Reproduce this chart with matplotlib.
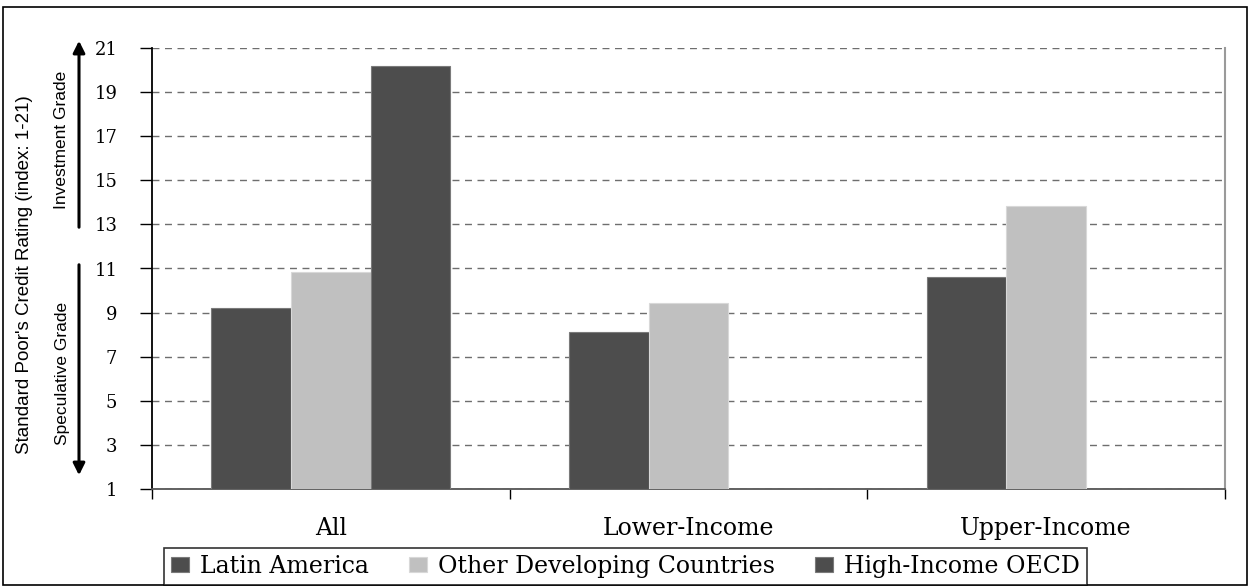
import matplotlib
matplotlib.use("Agg")
import matplotlib.pyplot as plt
import numpy as np
from matplotlib.patches import Rectangle, FancyArrowPatch

# data
groups = ["All", "Lower-Income", "Upper-Income"]
latin_america = [9.2, 8.1, 10.6]
other_developing = [10.85, 9.45, 13.85]
high_income_oecd = [20.2, None, None]
series_names = ["Latin America", "Other Developing Countries", "High-Income OECD"]
y_ticks = [1, 3, 5, 7, 9, 11, 13, 15, 17, 19, 21]

dark = "#4d4d4d"
light = "#c0c0c0"
serif = ["DejaVu Serif"]
narrow = ["Liberation Sans Narrow", "Liberation Sans", "DejaVu Sans"]

W, H = 1252, 586
fig = plt.figure(figsize=(W / 100, H / 100), dpi=100)
ax = fig.add_axes([152 / W, 1 - 489 / H, (1225 - 152) / W, (489 - 48) / H])

x = np.arange(len(groups))
w = 0.223
series = [latin_america, other_developing, high_income_oecd]
colors = [dark, light, dark]
edges = ["#7a7a7a", "#d8d8d8", "#7a7a7a"]
for i, (vals, c, ec, name) in enumerate(zip(series, colors, edges, series_names)):
    xs = [xi + (i - 1) * w for xi, v in zip(x, vals) if v is not None]
    hs = [v - 1 for v in vals if v is not None]
    ax.bar(xs, hs, width=w, bottom=1, color=c, edgecolor=ec, linewidth=0.8,
           label=name, zorder=3)

ax.set_xlim(-0.5, 2.5)
ax.set_ylim(1, 21)
ax.set_yticks(y_ticks)
ax.set_yticklabels([str(t) for t in y_ticks], fontfamily=serif, fontsize=13)
ax.yaxis.grid(True, linestyle=(0, (5, 4)), color="#6e6e6e", linewidth=1.0, zorder=0)
ax.tick_params(axis="y", direction="out", length=9, width=1, pad=16)

# category ticks at group boundaries, labels at centres
ax.set_xticks([-0.5, 0.5, 1.5, 2.5])
ax.set_xticklabels([])
ax.set_xticks(x, minor=True)
ax.set_xticklabels(groups, minor=True, fontfamily=serif, fontsize=17)
ax.tick_params(axis="x", which="major", direction="out", length=7, width=1)
ax.tick_params(axis="x", which="minor", length=0, pad=20)

ax.spines["top"].set_visible(False)
ax.spines["right"].set_color("#9a9a9a")
ax.spines["right"].set_linewidth(1.5)
ax.spines["left"].set_linewidth(1.3)
ax.spines["bottom"].set_color("#555555")
ax.spines["bottom"].set_linewidth(1.3)

# axis label and grade arrows on the left
fig.text(25 / W, 1 - 275 / H, "Standard Poor's Credit Rating (index: 1-21)",
         rotation=90, ha="center", va="center", fontfamily=narrow, fontsize=13.5)
fig.text(62 / W, 1 - 140 / H, "Investment Grade", rotation=90,
         ha="center", va="center", fontfamily=narrow, fontsize=12.5)
fig.text(62 / W, 1 - 373 / H, "Speculative Grade", rotation=90,
         ha="center", va="center", fontfamily=narrow, fontsize=12.5)
arrow_x = 79 / W
fig.add_artist(FancyArrowPatch(
    (arrow_x, 1 - 230 / H), (arrow_x, 1 - 38 / H), transform=fig.transFigure,
    arrowstyle="-|>,head_length=7,head_width=3.5", color="black", lw=2.2))
fig.add_artist(FancyArrowPatch(
    (arrow_x, 1 - 262 / H), (arrow_x, 1 - 478 / H), transform=fig.transFigure,
    arrowstyle="-|>,head_length=7,head_width=3.5", color="black", lw=2.2))

leg = fig.legend(loc="lower left", bbox_to_anchor=(164 / W, 1 - 585 / H), ncol=3,
                 frameon=True, fancybox=False, edgecolor="black",
                 prop={"family": serif, "size": 17}, handlelength=0.76,
                 handleheight=0.64, handletextpad=0.47, columnspacing=1.7,
                 borderpad=0.3, borderaxespad=0)
leg.get_frame().set_linewidth(1.2)

# outer border
fig.add_artist(Rectangle((3 / W, 1 - 585 / H), 1244 / W, 578 / H,
                         transform=fig.transFigure, fill=False,
                         edgecolor="black", linewidth=1.2))

fig.savefig("out.png", dpi=100)
